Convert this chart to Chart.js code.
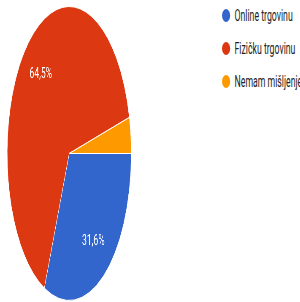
<!DOCTYPE html>
<html>
<head>
<meta charset="utf-8">
<script src="https://cdn.jsdelivr.net/npm/chart.js@4"></script>
<style>
    html, body { margin: 0; padding: 0; background: #fff; }
    body { width: 300px; height: 302px; position: relative; overflow: hidden; font-family: Roboto, Arial, sans-serif; }
    #pie { position: absolute; left: 0; top: 0; transform: scaleX(0.422); transform-origin: 0 0; }
    .legend { position: absolute; left: 222px; top: -1px; transform: scaleX(0.545); transform-origin: 0 0; white-space: nowrap; }
    .legend div { height: 33px; display: flex; align-items: center; font-size: 16px; color: #222; }
    .legend span { width: 15px; height: 13px; border-radius: 50%; margin-right: 8px; }
</style>
</head>
<body>
<canvas id="pie" width="328" height="302"></canvas>
<div class="legend"></div>
<script>
const labels = ["Online trgovinu", "Fizičku trgovinu", "Nemam mišljenje"];
const counts = [24, 49, 3];
const colors = ["#3366cc", "#dc3912", "#ff9900"];

const total = counts.reduce((sum, value) => sum + value, 0);
const percent = (value) => `${(value / total * 100).toFixed(1).replace(".", ",")}%`;

// white percentage text on the big slices, un-squished so it reads like the original
const sliceLabels = {
    id: "sliceLabels",
    afterDatasetsDraw(chart) {
        const ctx = chart.ctx;
        chart.getDatasetMeta(0).data.forEach((arc, index) => {
            if (counts[index] / total < 0.05) return;
            const mid = (arc.startAngle + arc.endAngle) / 2;
            const r = arc.outerRadius * 0.71;
            const x = arc.x + Math.cos(mid) * r;
            const y = arc.y + Math.sin(mid) * r;
            ctx.save();
            ctx.translate(x, y);
            ctx.scale(1.37, 1);
            ctx.fillStyle = "#fff";
            ctx.font = "15px Roboto, Arial, sans-serif";
            ctx.textAlign = "center";
            ctx.textBaseline = "middle";
            ctx.fillText(percent(counts[index]), 0, 0);
            ctx.restore();
        });
    },
};

new Chart(document.getElementById("pie"), {
    type: "pie",
    data: {
        labels,
        datasets: [{
            data: counts,
            backgroundColor: colors,
            borderColor: "#fff",
            borderWidth: 1,
        }],
    },
    options: {
        responsive: false,
        animation: false,
        rotation: 90,
        layout: { padding: { top: 6, bottom: 1 } },
        plugins: {
            legend: { display: false },
            tooltip: { enabled: false },
        },
    },
    plugins: [sliceLabels],
});

document.querySelector(".legend").innerHTML = labels.map((label, index) => `
    <div><span style="background:${colors[index]}"></span>${label}</div>
`).join("");
</script>
</body>
</html>
